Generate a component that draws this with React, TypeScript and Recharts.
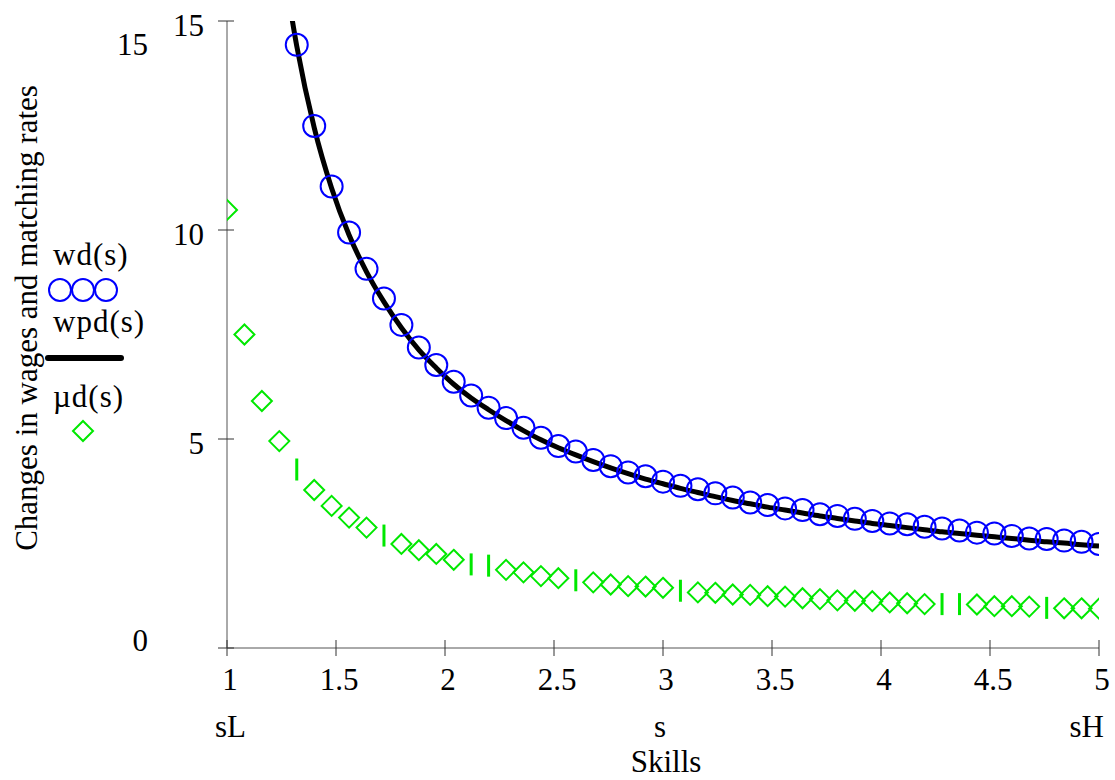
import React from 'react';
import { ComposedChart, Line, Scatter, XAxis, YAxis } from 'recharts';

// skill grid s (sL = 1 ... sH = 5)
const skills = [
  1.0, 1.08, 1.16, 1.24, 1.32, 1.4, 1.48, 1.56, 1.64, 1.72, 1.8, 1.88, 1.96,
  2.04, 2.12, 2.2, 2.28, 2.36, 2.44, 2.52, 2.6, 2.68, 2.76, 2.84, 2.92, 3.0,
  3.08, 3.16, 3.24, 3.32, 3.4, 3.48, 3.56, 3.64, 3.72, 3.8, 3.88, 3.96, 4.04,
  4.12, 4.2, 4.28, 4.36, 4.44, 4.52, 4.6, 4.68, 4.76, 4.84, 4.92, 5.0,
];

// wd(s), circles (first points are above the plotted range)
const wd = [
  null, null, null, null, 14.43, 12.49, 11.04, 9.94, 9.07, 8.36, 7.73, 7.19,
  6.77, 6.37, 6.04, 5.75, 5.5, 5.27, 5.03, 4.83, 4.7, 4.5, 4.35, 4.2, 4.11,
  3.98, 3.88, 3.8, 3.7, 3.6, 3.48, 3.42, 3.34, 3.3, 3.2, 3.16, 3.09, 3.04,
  2.98, 2.96, 2.9, 2.86, 2.81, 2.76, 2.74, 2.68, 2.62, 2.61, 2.57, 2.54, 2.49,
];

// wpd(s), solid line
const wpd = [
  null, null, null, 17.0, 14.4, 12.45, 11.0, 9.88, 9.0, 8.28, 7.66, 7.13, 6.7,
  6.31, 5.98, 5.7, 5.44, 5.2, 4.98, 4.79, 4.62, 4.46, 4.31, 4.17, 4.04, 3.93,
  3.82, 3.72, 3.62, 3.53, 3.45, 3.37, 3.3, 3.23, 3.16, 3.1, 3.04, 2.98, 2.93,
  2.88, 2.83, 2.78, 2.74, 2.7, 2.66, 2.62, 2.58, 2.54, 2.51, 2.47, 2.44,
];

// µd(s), diamonds
const mud = [
  10.48, 7.5, 5.91, 4.95, 4.27, 3.78, 3.4, 3.12, 2.88, 2.69, 2.49, 2.34, 2.25,
  2.11, 2.0, 1.97, 1.87, 1.81, 1.72, 1.67, 1.62, 1.57, 1.52, 1.48, 1.47, 1.44,
  1.37, 1.33, 1.32, 1.28, 1.27, 1.24, 1.23, 1.19, 1.17, 1.14, 1.13, 1.12, 1.09,
  1.07, 1.05, 1.05, 1.05, 1.04, 1.0, 1.0, 0.99, 0.96, 0.95, 0.95, 0.94,
];

// diamonds that the original draws collapsed into a vertical stroke
const thinMarkers = [1.32, 1.72, 2.12, 2.2, 2.6, 3.08, 4.28, 4.36, 4.76];

const xTicks = [1, 1.5, 2, 2.5, 3, 3.5, 4, 4.5, 5];
const yTicks = [0, 5, 10, 15];

const FONT = '"Liberation Serif", "Times New Roman", serif';
const FS = 31;
const BLUE = '#0000ff';
const GREEN = '#00e800';

const toRows = (vals: (number | null)[]) =>
  skills
    .map((s, i) => ({ s, v: vals[i] }))
    .filter(d => d.v !== null);

const wdData = toRows(wd);
const wpdData = toRows(wpd);
const mudData = toRows(mud);

const XTick = (props: any) => {
  const { x, y, payload } = props;
  return (
    <g>
      <line x1={x} y1={y - 8} x2={x} y2={y + 8} stroke="#333" />
      <text x={x + 3} y={y + 42} textAnchor="middle" fontSize={FS} fontFamily={FONT} fill="#000">
        {payload.value}
      </text>
    </g>
  );
};

const YTick = (props: any) => {
  const { x, y, payload } = props;
  return (
    <g>
      <line x1={x - 9} y1={y} x2={x + 7} y2={y} stroke="#333" />
      {payload.value !== 0 && (
        <text x={x - 23} y={y + 15} textAnchor="end" fontSize={FS} fontFamily={FONT} fill="#000">
          {payload.value}
        </text>
      )}
    </g>
  );
};

const Circle = (props: any) => {
  const { cx, cy } = props;
  return <circle cx={cx} cy={cy} r={11} fill="none" stroke={BLUE} strokeWidth={2} />;
};

const Diamond = (props: any) => {
  const { cx, cy, payload } = props;
  if (thinMarkers.includes(payload?.s)) {
    return <line x1={cx} y1={cy - 11} x2={cx} y2={cy + 11} stroke={GREEN} strokeWidth={3} />;
  }
  return (
    <path
      d={`M${cx},${cy - 10} L${cx + 10},${cy} L${cx},${cy + 10} L${cx - 10},${cy} Z`}
      fill="none"
      stroke={GREEN}
      strokeWidth={2}
    />
  );
};

export default function App() {
  return (
    <div style={{ position: 'absolute', left: 0, top: 0, width: 1115, height: 780, background: '#fff' }}>
      <ComposedChart width={1115} height={780} margin={{ top: 21, right: 16, bottom: 0, left: 0 }}>
        <XAxis
          type="number"
          dataKey="s"
          domain={[1, 5]}
          ticks={xTicks}
          interval={0}
          allowDataOverflow
          height={132}
          tickSize={0}
          tickMargin={0}
          tickLine={false}
          axisLine={{ stroke: '#555' }}
          tick={<XTick />}
        />
        <YAxis
          type="number"
          dataKey="v"
          domain={[0, 15]}
          ticks={yTicks}
          interval={0}
          allowDataOverflow
          width={227}
          tickSize={0}
          tickMargin={0}
          tickLine={false}
          axisLine={{ stroke: '#555' }}
          tick={<YTick />}
        />
        <Scatter data={wdData} dataKey="v" shape={<Circle />} isAnimationActive={false} />
        <Scatter data={mudData} dataKey="v" shape={<Diamond />} isAnimationActive={false} />
        <Line
          data={wpdData}
          dataKey="v"
          type="monotone"
          stroke="#000"
          strokeWidth={5}
          dot={false}
          activeDot={false}
          isAnimationActive={false}
        />
      </ComposedChart>
      <svg
        width={1115}
        height={780}
        style={{ position: 'absolute', left: 0, top: 0, pointerEvents: 'none' }}
        fontFamily={FONT}
        fontSize={FS}
      >
        <text transform="translate(37,318) rotate(-90)" textAnchor="middle">
          Changes in wages and matching rates
        </text>
        <text x={148} y={55} textAnchor="end">15</text>
        <text x={148} y={651} textAnchor="end">0</text>
        <text x={215} y={737}>sL</text>
        <text x={660} y={737} textAnchor="middle">s</text>
        <text x={1104} y={737} textAnchor="end">sH</text>
        <text x={666} y={772} textAnchor="middle">Skills</text>

        <text x={53} y={265} letterSpacing={1}>wd(s)</text>
        {[60, 83, 106].map(cx => (
          <circle key={cx} cx={cx} cy={290} r={11} fill="none" stroke={BLUE} strokeWidth={2} />
        ))}
        <text x={53} y={332} letterSpacing={1}>wpd(s)</text>
        <line x1={48} y1={358} x2={121} y2={358} stroke="#000" strokeWidth={6} strokeLinecap="round" />
        <text x={53} y={407} letterSpacing={1}>µd(s)</text>
        <path d="M83,421 L93,431 L83,441 L73,431 Z" fill="none" stroke={GREEN} strokeWidth={2} />
      </svg>
    </div>
  );
}
